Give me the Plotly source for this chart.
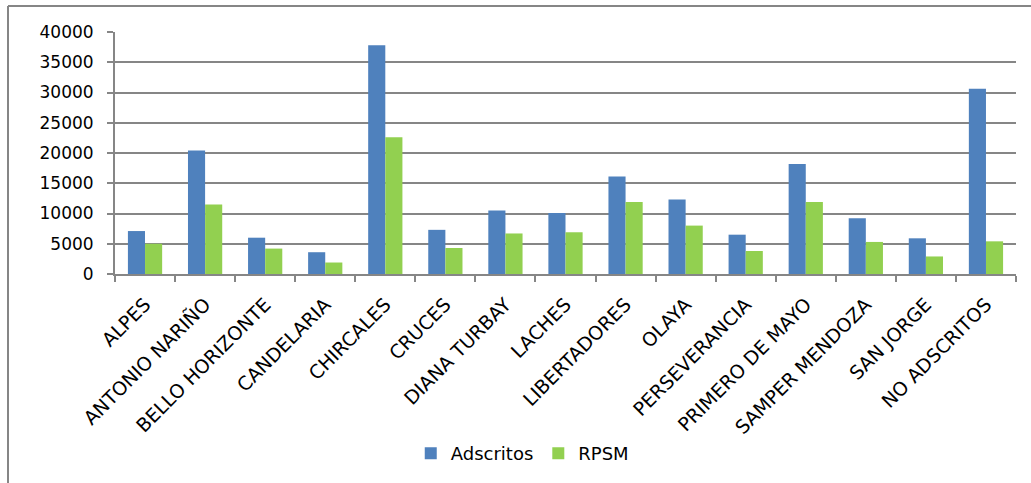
import plotly.graph_objects as go

categorias = [
    "ALPES", "ANTONIO NARIÑO", "BELLO HORIZONTE", "CANDELARIA", "CHIRCALES",
    "CRUCES", "DIANA TURBAY", "LACHES", "LIBERTADORES", "OLAYA",
    "PERSEVERANCIA", "PRIMERO DE MAYO", "SAMPER MENDOZA", "SAN JORGE",
    "NO ADSCRITOS",
]
adscritos = [7100, 20400, 6000, 3600, 37800, 7300, 10500, 10100, 16100,
             12300, 6500, 18200, 9200, 5900, 30600]
rpsm = [5000, 11500, 4200, 1900, 22600, 4300, 6700, 6900, 11900,
        8000, 3800, 11900, 5300, 2900, 5400]
y_ticks = [0, 5000, 10000, 15000, 20000, 25000, 30000, 35000, 40000]
y_labels = [str(v) for v in y_ticks]

fig = go.Figure()
fig.add_trace(go.Bar(name="Adscritos", x=categorias, y=adscritos,
                     marker=dict(color="#4F81BD", line=dict(width=0))))
fig.add_trace(go.Bar(name="RPSM", x=categorias, y=rpsm,
                     marker=dict(color="#92D050", line=dict(width=0))))

fig.update_layout(
    width=1031, height=483,
    margin=dict(l=115, r=15, t=32, b=208),
    paper_bgcolor="white", plot_bgcolor="white",
    barmode="group", bargap=0.43, bargroupgap=0,
    font=dict(family="DejaVu Sans", color="#000000"),
    legend=dict(orientation="h", x=0.452, xanchor="center", y=-0.735,
                yanchor="middle", font=dict(size=18), itemwidth=30,
                traceorder="normal"),
    xaxis=dict(tickangle=-45, tickfont=dict(size=19),
               showline=True, linecolor="#868686", linewidth=2,
               ticks="outside", tickson="boundaries", ticklen=6,
               tickcolor="#868686", tickwidth=2, ticklabelstandoff=10),
    yaxis=dict(range=[0, 40000], tickvals=y_ticks, ticktext=y_labels,
               tickfont=dict(size=17),
               showgrid=True, gridcolor="#868686", gridwidth=2,
               showline=True, linecolor="#868686", linewidth=2,
               ticks="outside", ticklen=6, tickcolor="#868686", tickwidth=2,
               ticklabelstandoff=10, zeroline=False),
    showlegend=True,
)

# outer chart frame (top and left edges)
fig.add_shape(type="line", xref="paper", yref="paper",
              x0=-107 / 901, x1=1.02, y0=1 + 26 / 243, y1=1 + 26 / 243,
              line=dict(color="#868686", width=2))
fig.add_shape(type="line", xref="paper", yref="paper",
              x0=-107 / 901, x1=-107 / 901, y0=-1.0, y1=1 + 26 / 243,
              line=dict(color="#868686", width=2))

fig.write_html("out.html")
